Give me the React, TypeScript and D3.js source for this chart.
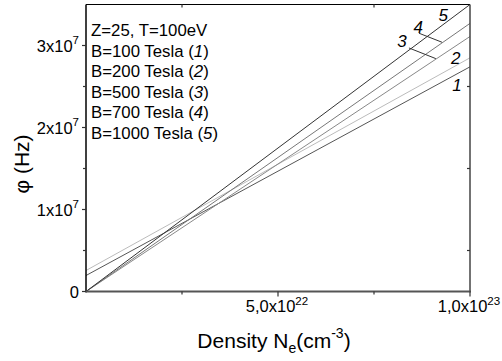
import { useRef, useEffect } from 'react';
import * as d3 from 'd3';

// densities at the two ends of each (straight) curve, cm^-3
const densities = [0, 1e23];
// phi (Hz) at those densities, one array per field strength
const phiB100 = [1.95e6, 2.74e7];
const phiB200 = [2.56e6, 2.85e7];
const phiB500 = [0, 3.11e7];
const phiB700 = [0, 3.27e7];
const phiB1000 = [0, 3.5e7];
const seriesIds = ['1', '2', '3', '4', '5'];
const seriesColors = ['#555', '#bbb', '#888', '#777', '#333'];
const bFields = [100, 200, 500, 700, 1000];

const yTicks = [0, 1e7, 2e7, 3e7];
const yTickLabels = ['0', '1x10|7', '2x10|7', '3x10|7'];
const yMinor = [0.5e7, 1.5e7, 2.5e7];
const xTicks = [5e22, 1e23];
const xTickLabels = ['5,0x10|22', '1,0x10|23'];
const xMinor = [2.5e22, 7.5e22];

// curve number labels [density, phi]
const labelPos = [[9.66e22, 2.45e7], [9.63e22, 2.77e7], [8.23e22, 2.98e7], [8.65e22, 3.15e7], [9.3e22, 3.3e7]];
// leader lines for labels 3 and 4
const leaders = [
  [[8.41e22, 2.97e7], [9.11e22, 2.84e7]],
  [[8.67e22, 3.15e7], [9.27e22, 3.04e7]],
];

const W = 502, H = 361;
const left = 86, right = 470, top = 4.5, bottom = 291.5;
const FONT = "'Liberation Sans', Arial, Helvetica, sans-serif";

const App = () => {
  const svgRef = useRef(null);

  useEffect(() => {
    const svg = d3.select(svgRef.current);
    svg.selectAll('*').remove();

    const x = d3.scaleLinear().domain([0, 1e23]).range([left, right]);
    const y = d3.scaleLinear().domain([0, 3.5e7]).range([bottom, top]);

    svg.append('defs').append('clipPath').attr('id', 'plotclip')
      .append('rect').attr('x', left).attr('y', top).attr('width', right - left).attr('height', bottom - top);

    const allSeries = [phiB100, phiB200, phiB500, phiB700, phiB1000];
    const line = d3.line<number>().x((_, i) => x(densities[i])).y(d => y(d));

    svg.append('g').attr('clip-path', 'url(#plotclip)')
      .selectAll('path')
      .data(allSeries)
      .enter()
      .append('path')
      .attr('d', d => line(d))
      .attr('fill', 'none')
      .attr('stroke', (_, i) => seriesColors[i])
      .attr('stroke-width', 1);

    // frame
    svg.append('line').attr('x1', left).attr('x2', right).attr('y1', top).attr('y2', top)
      .attr('stroke', '#000').attr('stroke-width', 1.2);
    svg.append('line').attr('x1', right).attr('x2', right).attr('y1', top).attr('y2', bottom)
      .attr('stroke', '#444').attr('stroke-width', 1.5);
    svg.append('line').attr('x1', left).attr('x2', left).attr('y1', top).attr('y2', bottom + 1)
      .attr('stroke', '#000').attr('stroke-width', 1.5);
    svg.append('line').attr('x1', left).attr('x2', right + 1).attr('y1', bottom).attr('y2', bottom)
      .attr('stroke', '#555').attr('stroke-width', 2);

    // ticks
    const tk = svg.append('g').attr('stroke', '#333').attr('stroke-width', 1.2);
    yTicks.forEach(v => {
      tk.append('line').attr('x1', left - 4).attr('x2', left).attr('y1', y(v)).attr('y2', y(v));
    });
    yMinor.forEach(v => {
      tk.append('line').attr('x1', left - 3).attr('x2', left).attr('y1', y(v)).attr('y2', y(v));
      tk.append('line').attr('x1', right - 3).attr('x2', right).attr('y1', y(v)).attr('y2', y(v));
    });
    xTicks.forEach(v => {
      tk.append('line').attr('x1', x(v)).attr('x2', x(v)).attr('y1', bottom).attr('y2', bottom + 5);
    });
    xMinor.forEach(v => {
      tk.append('line').attr('x1', x(v)).attr('x2', x(v)).attr('y1', bottom).attr('y2', bottom + 3);
      tk.append('line').attr('x1', x(v)).attr('x2', x(v)).attr('y1', top).attr('y2', top + 3);
    });

    const supText = (g, str, size) => {
      const [base, sup] = str.split('|');
      g.append('tspan').text(base);
      if (sup) g.append('tspan').attr('font-size', size * 0.7).attr('dy', -size * 0.45).text(sup);
    };

    yTicks.forEach((v, i) => {
      const t = svg.append('text').attr('x', left - 7).attr('y', y(v) + 6)
        .attr('text-anchor', 'end').attr('font-family', FONT).attr('font-size', 16.5).attr('fill', '#000');
      supText(t, yTickLabels[i], 16.5);
    });
    xTicks.forEach((v, i) => {
      const t = svg.append('text').attr('x', x(v) - 1).attr('y', 312)
        .attr('text-anchor', 'middle').attr('font-family', FONT).attr('font-size', 16.5).attr('fill', '#000');
      supText(t, xTickLabels[i], 16.5);
    });

    // axis titles
    const xt = svg.append('text').attr('x', 274).attr('y', 348).attr('text-anchor', 'middle')
      .attr('font-family', FONT).attr('font-size', 21).attr('fill', '#000');
    xt.append('tspan').text('Density N');
    xt.append('tspan').attr('font-size', 14).attr('dy', 5).text('e');
    xt.append('tspan').attr('dy', -5).text('(cm');
    xt.append('tspan').attr('font-size', 14).attr('dy', -10).text('-3');
    xt.append('tspan').attr('dy', 10).text(')');

    svg.append('text').attr('transform', 'translate(29,164) rotate(-90)').attr('text-anchor', 'middle')
      .attr('font-family', FONT).attr('font-size', 21).attr('fill', '#000').text('\u03C6 (Hz)');

    // legend text
    const lg = svg.append('g').attr('font-family', FONT).attr('font-size', 16.8).attr('fill', '#000');
    lg.append('text').attr('x', 91).attr('y', 36).text('Z=25, T=100eV');
    bFields.forEach((b, i) => {
      const t = lg.append('text').attr('x', 91).attr('y', 36 + 20.6 * (i + 1));
      t.append('tspan').text(`B=${b} Tesla (`);
      t.append('tspan').attr('font-style', 'italic').text(seriesIds[i]);
      t.append('tspan').text(')');
    });

    // curve labels
    svg.append('g').selectAll('text').data(labelPos).enter().append('text')
      .attr('x', d => x(d[0])).attr('y', d => y(d[1]))
      .attr('text-anchor', 'middle').attr('font-family', FONT).attr('font-size', 17)
      .attr('font-style', 'italic').attr('fill', '#000')
      .text((_, i) => seriesIds[i]);

    svg.append('g').selectAll('line').data(leaders).enter().append('line')
      .attr('x1', d => x(d[0][0])).attr('y1', d => y(d[0][1]))
      .attr('x2', d => x(d[1][0])).attr('y2', d => y(d[1][1]))
      .attr('stroke', '#333').attr('stroke-width', 1);
  }, []);

  return <svg ref={svgRef} width={W} height={H} style={{ position: 'absolute', left: 0, top: 0, background: '#fff' }}></svg>;
};

export default App;
